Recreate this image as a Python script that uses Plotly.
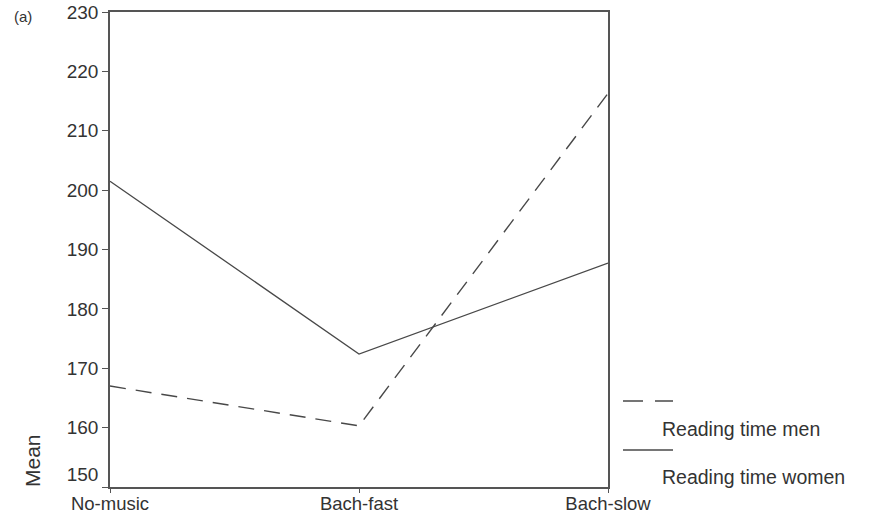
import plotly.graph_objects as go

categories = ["No-music", "Bach-fast", "Bach-slow"]
men = [167.0, 160.3, 216.3]
women = [201.5, 172.4, 187.7]
y_ticks = [150, 160, 170, 180, 190, 200, 210, 220, 230]
# the lowest label sits a little above its tick in the reference
y_tick_labels = ["150<br>&nbsp;", "160", "170", "180", "190", "200", "210", "220", "230"]

FONT = "Liberation Sans, Arial, sans-serif"
LINE = "#484848"
TXT = "#333333"
W, H = 869, 514
L, R, T, B = 110, 261, 12, 27
pw, ph = W - L - R, H - T - B

def px(x):
    return (x - L) / pw

def py(y):
    return (H - B - y) / ph

fig = go.Figure()
fig.add_trace(go.Scatter(x=[0, 1, 2], y=men, mode="lines",
                         line=dict(color=LINE, width=1.4, dash="16px,10px"),
                         name="Reading time men", showlegend=False))
fig.add_trace(go.Scatter(x=[0, 1, 2], y=women, mode="lines",
                         line=dict(color=LINE, width=1.3),
                         name="Reading time women", showlegend=False))

fig.update_layout(
    width=W, height=H,
    margin=dict(l=L, r=R, t=T, b=B, autoexpand=False),
    plot_bgcolor="white", paper_bgcolor="white",
    font=dict(family=FONT, color=TXT, size=19),
    xaxis=dict(range=[0, 2], tickvals=[0, 1, 2], ticktext=categories, automargin=False,
               showgrid=False, zeroline=False, showline=True, linecolor="#555555",
               linewidth=1.5, mirror=True, ticks="outside", ticklen=4,
               ticklabelstandoff=-5,
               tickcolor="#555555", tickfont=dict(size=18.5, family=FONT, color=TXT)),
    yaxis=dict(range=[150, 230], tickvals=y_ticks, ticktext=y_tick_labels,
               showgrid=False, zeroline=False, automargin=False,
               showline=True, linecolor="#555555", linewidth=1.5, mirror=True,
               ticks="outside", ticklen=6, tickcolor="#555555",
               tickfont=dict(size=19, family=FONT, color=TXT)),
)

fig.add_annotation(xref="paper", yref="paper", x=px(32), y=py(461), text="Mean",
                   textangle=-90, showarrow=False, font=dict(size=21, family=FONT, color=TXT),
                   xanchor="center", yanchor="middle")
fig.add_annotation(xref="paper", yref="paper", x=px(12), y=py(16), text="(a)",
                   showarrow=False, font=dict(size=15, family=FONT, color=TXT),
                   xanchor="left", yanchor="middle")

# legend samples
fig.add_shape(type="line", xref="paper", yref="paper", x0=px(623), x1=px(673),
              y0=py(401), y1=py(401), line=dict(color=LINE, width=1.4, dash="20px,12px"))
fig.add_shape(type="line", xref="paper", yref="paper", x0=px(623), x1=px(673),
              y0=py(450), y1=py(450), line=dict(color=LINE, width=1.3))
fig.add_annotation(xref="paper", yref="paper", x=px(660), y=py(429), text="Reading time men",
                   showarrow=False, font=dict(size=19.5, family=FONT, color=TXT),
                   xanchor="left", yanchor="middle")
fig.add_annotation(xref="paper", yref="paper", x=px(660), y=py(477), text="Reading time women",
                   showarrow=False, font=dict(size=19.5, family=FONT, color=TXT),
                   xanchor="left", yanchor="middle")

fig.write_html("out.html", config={"displayModeBar": False},
               post_script="document.body.style.margin='0';")
